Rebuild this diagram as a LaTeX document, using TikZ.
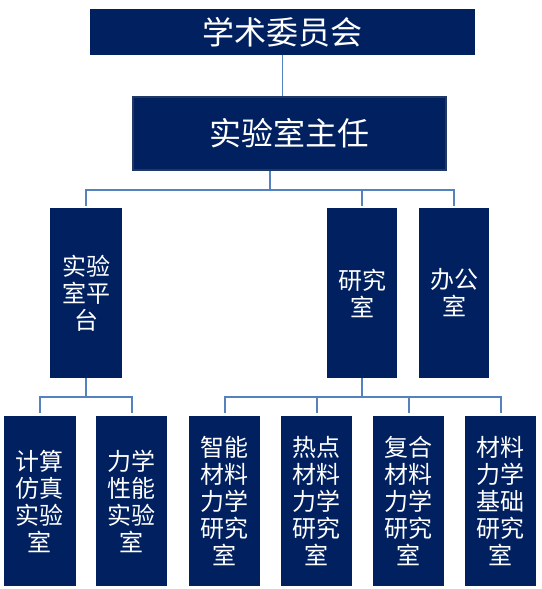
\documentclass[tikz,border=0pt]{standalone}
\usepackage{fontspec}
\setmainfont{Noto Sans CJK SC}
\definecolor{boxblue}{RGB}{0,32,96}
\definecolor{rimblue}{RGB}{31,56,100}
\definecolor{linkblue}{RGB}{84,130,190}

\begin{document}
\begin{tikzpicture}[x=1pt,y=-1pt,
  box/.style={rectangle,fill=boxblue,text=white,inner sep=0pt,align=center},
  big box/.style={box,font=\fontsize{32}{36}\selectfont},
  unit box/.style={box,minimum width=71pt,minimum height=170pt,
    font=\fontsize{24}{27}\selectfont},
  link/.style={draw=linkblue,line width=2pt}]
  \useasboundingbox (0,0) rectangle (541,589);

  \node[big box,minimum width=385pt,minimum height=46pt] (council) at (282.5,32) {学术委员会};
  \node[big box,draw=rimblue,line width=1.5pt,minimum width=313pt,minimum height=73pt] (director) at (289.5,133.5) {实验室主任};

  \node[unit box,minimum width=72pt] (platform) at (86,293) {实验\\室平\\台};
  \node[unit box,minimum width=70pt] (research) at (362,293) {研究\\室};
  \node[unit box,minimum width=70pt] (office) at (454,293) {办公\\室};

  \node[unit box,minimum width=72pt] (sim) at (40,501) {计算\\仿真\\实验\\室};
  \node[unit box] (mech) at (131.5,501) {力学\\性能\\实验\\室};
  \node[unit box] (smart) at (224.5,501) {智能\\材料\\力学\\研究\\室};
  \node[unit box] (hot) at (316.5,501) {热点\\材料\\力学\\研究\\室};
  \node[unit box] (comp) at (408.5,501) {复合\\材料\\力学\\研究\\室};
  \node[unit box] (basic) at (500.5,501) {材料\\力学\\基础\\研究\\室};

  % connectors
  \draw[link,line width=1.5pt] (council.south) -- (council.south |- director.north);
  \foreach \child in {platform,research,office}
    \draw[link,shorten >=2pt] ([xshift=-19.5pt]director.south) -- ++(0,19) -| (\child.north);
  \foreach \child in {sim,mech}
    \draw[link,shorten >=3pt] (platform.south) -- ++(0,19) -| (\child.north);
  \foreach \child in {smart,hot,comp,basic}
    \draw[link,shorten >=3pt] (research.south) -- ++(0,19) -| (\child.north);
\end{tikzpicture}
\end{document}
